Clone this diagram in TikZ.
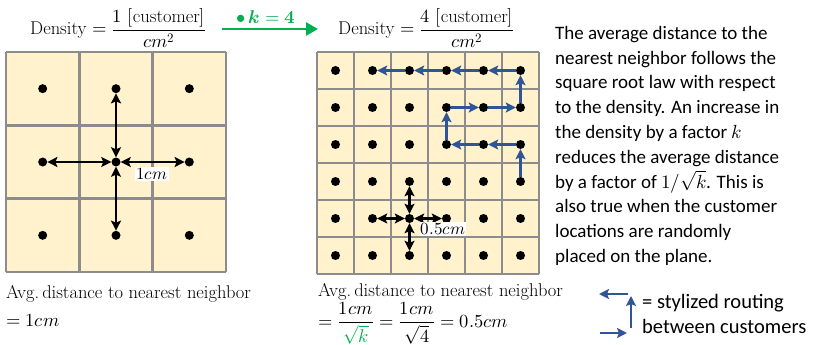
\documentclass[tikz,border=0pt]{standalone}
\usepackage{amsmath}
\usepackage{fontspec}
\usepackage{unicode-math}
\setmathfont{Latin Modern Math}
\newfontfamily\sansf{Carlito}
\usetikzlibrary{arrows.meta}
\definecolor{cellfill}{HTML}{FFF2CC}
\definecolor{gridgray}{HTML}{8C8C8C}
\definecolor{routeblue}{HTML}{2F5597}
\definecolor{kgreen}{HTML}{00B050}
\tikzset{
  dot/.style={circle,fill=black,inner sep=0pt,minimum size=9pt},
  nn/.style={{Stealth[length=10pt,width=10pt,inset=2pt]}-{Stealth[length=10pt,width=10pt,inset=2pt]},line width=2.2pt},
  route/.style={-{Stealth[length=10pt,width=10pt,inset=2pt]},line width=2.6pt,routeblue},
  gridline/.style={gridgray,line width=2.6pt},
  serifbig/.style={font=\fontsize{18.5}{22}\selectfont},
  dimlabel/.style={fill=white,inner sep=1pt,font=\fontsize{17}{20}\selectfont},
  sanstext/.style={font=\sansf\fontsize{19}{24.8}\selectfont},
  legtext/.style={font=\sansf\fontsize{20.5}{24.8}\selectfont}
}
\begin{document}
\begin{tikzpicture}[x=1pt,y=-1pt]
\useasboundingbox (0,0) rectangle (814,345);
% ---------- left grid
\fill[cellfill] (6,52) rectangle (226,272);
\foreach \i in {0,...,3}{
  \draw[gridline] ({6+\i*220/3},52) -- ({6+\i*220/3},272);
  \draw[gridline] (6,{52+\i*220/3}) -- (226,{52+\i*220/3});
}
\foreach \c in {1,2,3}{\foreach \r in {1,2,3}{
  \node[dot] (L\c\r) at ({6+(\c-0.5)*220/3},{52+(\r-0.5)*220/3}) {};
}}
\draw[nn] (L22) -- (L21);
\draw[nn] (L22) -- (L12);
\draw[nn] (L22) -- (L32);
\draw[nn] (L22) -- (L23);
\node[dimlabel] (lab1) at (152,174) {$1cm$};
% ---------- right grid
\fill[cellfill] (317,52) rectangle (539,274);
\foreach \i in {0,...,6}{
  \draw[gridline] ({317+\i*37},52) -- ({317+\i*37},274);
  \draw[gridline] (317,{52+\i*37}) -- (539,{52+\i*37});
}
\foreach \c in {1,...,6}{\foreach \r in {1,...,6}{
  \node[dot] (R\c\r) at ({317+(\c-0.5)*37},{52+(\r-0.5)*37}) {};
}}
\draw[route] (R64) -- (R63);
\draw[route] (R63) -- (R53);
\draw[route] (R53) -- (R43);
\draw[route] (R43) -- (R42);
\draw[route] (R42) -- (R52);
\draw[route] (R52) -- (R62);
\draw[route] (R62) -- (R61);
\draw[route] (R61) -- (R51);
\draw[route] (R51) -- (R41);
\draw[route] (R41) -- (R31);
\draw[route] (R31) -- (R21);
\draw[nn] (R35) -- (R34);
\draw[nn] (R35) -- (R25);
\draw[nn] (R35) -- (R36);
\draw[nn] (R35) -- (R45);
\node[dimlabel] (lab2) at (443,229) {$0.5cm$};
% ---------- top formulas
\node[serifbig,anchor=base west,inner sep=0pt] (d1) at (30,35) {Density $=\dfrac{1\ [\text{customer}]}{cm^2}$};
\node[serifbig,anchor=base west,inner sep=0pt] (d2) at (338,35) {Density $=\dfrac{4\ [\text{customer}]}{cm^2}$};
\coordinate (gs) at (222,29);
\coordinate (ge) at (318,29);
\draw[kgreen,line width=2.6pt,-{Triangle[length=12pt,width=13pt]}] (gs) -- (ge);
\node[kgreen,serifbig] (k4) at (266,17) {$\bullet\,\symbfit{k}\symbf{=4}$};
% ---------- bottom texts
\node[serifbig,anchor=base west,inner sep=0pt] (a1) at (6,298) {Avg.\,distance to nearest neighbor};
\node[serifbig,anchor=base west,inner sep=0pt] (a2) at (6,326) {$=1cm$};
\node[serifbig,anchor=base west,inner sep=0pt] (b1) at (318,296) {Avg.\,distance to nearest neighbor};
\node[serifbig,anchor=base west,inner sep=0pt] (b2) at (318,327) {$=\dfrac{1cm}{\textcolor{kgreen}{\sqrt{k}}}=\dfrac{1cm}{\sqrt{4}}=0.5cm$};
% ---------- legend
\coordinate (l1s) at (628,294);
\coordinate (l1e) at (599,294);
\coordinate (l2s) at (631,328);
\coordinate (l2e) at (631,296);
\coordinate (l3s) at (600,333);
\coordinate (l3e) at (627,333);
\draw[route] (l1s) -- (l1e);
\draw[route] (l2s) -- (l2e);
\draw[route] (l3s) -- (l3e);
\node[legtext,anchor=base west,inner sep=0pt] (t1) at (642,308) {= stylized routing};
\node[legtext,anchor=base west,inner sep=0pt] (t2) at (642,333) {between customers};
% ---------- paragraph
\node[sanstext,anchor=north west,inner sep=0pt,align=left] (para) at (555,26) {The average distance to the\\
nearest neighbor follows the\\
square root law with respect\\
to the density. An increase in\\
the density by a factor $k$\\
reduces the average distance\\
by a factor of $1/\sqrt{k}$. This is\\
also true when the customer\\
locations are randomly\\
placed on the plane.};
\end{tikzpicture}
\end{document}
